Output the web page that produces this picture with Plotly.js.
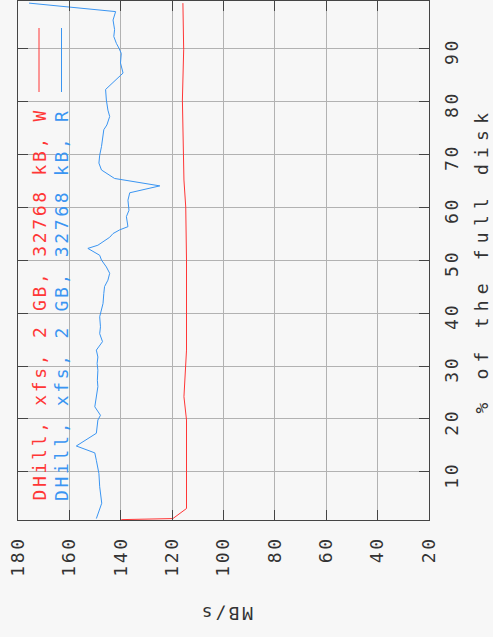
<!DOCTYPE html>
<html>
<head>
<meta charset="utf-8">
<script src="https://cdn.plot.ly/plotly-3.0.1.min.js"></script>
<style>
  html, body { margin: 0; padding: 0; background: #f7f7f7; }
  #chart { width: 493px; height: 637px; }
  /* wide, typewriter-like spacing for every label */
  .xtick text, .ytick text, .annotation-text { letter-spacing: 2.7px; }
  /* the axis title on the right is spaced out even wider */
  .annotation[data-index="2"] .annotation-text { letter-spacing: 6.2px; }
</style>
</head>
<body>
<div id="chart"></div>
<script>
// Throughput (MB/s) against position on the disk (% of the full disk)
const seriesNames = ["DHill, xfs, 2 GB, 32768 kB, W", "DHill, xfs, 2 GB, 32768 kB, R"];
const seriesColors = ["#ff3636", "#3a95f2"];

// write pass
const pctWrite = [1.0, 1.2, 3.1, 19.8, 24.2, 33.0, 50.0, 60.0, 65.1, 80.2, 89.7, 98.5];
const mbWrite  = [139.8, 119.7, 114.4, 114.4, 115.4, 114.4, 114.4, 114.7, 115.4, 116.0, 115.5, 115.8];

// read pass
const pctRead = [1.2, 4.1, 7.2, 9.7, 12.2, 13.6, 14.9, 17.3, 19.8, 20.7, 22.3, 26.1, 27.3, 29.2,
                 30.5, 31.7, 33.0, 34.6, 36.1, 37.4, 39.3, 40.6, 41.8, 43.7, 45.0, 46.2, 47.5,
                 48.7, 50.0, 50.9, 52.2, 52.8, 53.5, 54.3, 55.0, 55.7, 56.3, 58.2, 59.4, 61.3,
                 62.7, 64.0, 65.4, 66.4, 67.0, 68.3, 69.8, 71.4, 73.3, 74.6, 75.5, 77.1, 78.3,
                 80.2, 82.2, 83.7, 85.3, 87.2, 89.0, 90.0, 90.9, 92.2, 93.5, 95.3, 96.9, 98.5];
const mbRead  = [149.5, 147.4, 148.2, 148.5, 149.5, 150.1, 157.3, 149.5, 148.9, 147.9, 150.1, 148.9, 149.1, 148.9,
                 149.2, 148.9, 149.5, 147.1, 148.2, 147.9, 148.2, 147.5, 146.9, 146.6, 146.3, 145.0, 144.3,
                 145.6, 147.5, 148.2, 152.8, 148.9, 146.9, 144.3, 143.0, 140.4, 137.2, 137.8, 136.8, 137.2,
                 136.5, 124.8, 142.4, 145.6, 147.5, 148.5, 148.2, 147.5, 146.9, 146.6, 145.4, 144.3, 145.0,
                 145.6, 145.9, 142.4, 139.1, 140.1, 139.8, 140.7, 141.7, 142.7, 142.4, 143.0, 142.0, 175.7];

const mbTicks  = [180, 160, 140, 120, 100, 80, 60, 40, 20];
const pctTicks = [10, 20, 30, 40, 50, 60, 70, 80, 90];
const mbTitle  = "MB/s";
const pctTitle = "% of the full disk";

const W = 493, H = 637;
const M = { l: 18, r: 64, t: 1, b: 117 };
const PW = W - M.l - M.r, PH = H - M.t - M.b;
// page pixel -> paper fraction
const px = x => (x - M.l) / PW;
const py = y => (H - M.b - y) / PH;

const FONT = "DejaVu Sans Mono, monospace";
const INK = "#333333";
const FRAME = "#454545";
const GRID = "#b2b2b2";

const traces = [
  { x: mbWrite, y: pctWrite, type: "scatter", mode: "lines",
    line: { color: seriesColors[0], width: 1 }, hoverinfo: "skip", name: seriesNames[0] },
  { x: mbRead, y: pctRead, type: "scatter", mode: "lines",
    line: { color: seriesColors[1], width: 1 }, hoverinfo: "skip", name: seriesNames[1] }
];

const axisCommon = {
  ticks: "inside", ticklen: 10, tickwidth: 1, tickcolor: FRAME,
  showline: true, linecolor: FRAME, linewidth: 1, mirror: "allticks",
  showgrid: true, gridcolor: GRID, gridwidth: 1, zeroline: false,
  tickangle: -90, tickfont: { family: FONT, size: 18, color: INK }
};

const layout = {
  width: W, height: H, margin: M,
  paper_bgcolor: "#f7f7f7", plot_bgcolor: "#f7f7f7",
  showlegend: false,
  xaxis: Object.assign({}, axisCommon, {
    range: [180, 20], tickvals: mbTicks, ticktext: mbTicks.map(String),
    ticklabelstandoff: 8
  }),
  yaxis: Object.assign({}, axisCommon, {
    side: "right", range: [0.93, 98.9], tickvals: pctTicks, ticktext: pctTicks.map(String),
    ticklabelstandoff: 6, ticklabelshift: 6
  }),
  shapes: [
    // opaque key box
    { type: "rect", xref: "paper", yref: "paper", x0: px(28.5), x1: px(71.5), y0: py(513), y1: py(14),
      fillcolor: "#f7f7f7", line: { width: 0 }, layer: "between" },
    // key samples
    { type: "line", xref: "paper", yref: "paper", x0: px(39), x1: px(39), y0: py(92), y1: py(28),
      line: { color: seriesColors[0], width: 1 } },
    { type: "line", xref: "paper", yref: "paper", x0: px(61.5), x1: px(61.5), y0: py(92), y1: py(28),
      line: { color: seriesColors[1], width: 1 } }
  ],
  annotations: [
    { text: seriesNames[0], xref: "paper", yref: "paper", x: px(39), y: py(502),
      xanchor: "center", yanchor: "bottom", textangle: -90, showarrow: false, borderpad: 0,
      font: { family: FONT, size: 18, color: seriesColors[0] } },
    { text: seriesNames[1], xref: "paper", yref: "paper", x: px(61.5), y: py(502),
      xanchor: "center", yanchor: "bottom", textangle: -90, showarrow: false, borderpad: 0,
      font: { family: FONT, size: 18, color: seriesColors[1] } },
    { text: pctTitle, xref: "paper", yref: "paper", x: px(481), y: py(260),
      xanchor: "center", yanchor: "middle", textangle: -90, showarrow: false, borderpad: 0,
      font: { family: FONT, size: 18, color: INK } },
    { text: mbTitle, xref: "paper", yref: "paper", x: px(226.5), y: py(613.5),
      xanchor: "center", yanchor: "middle", textangle: 180, showarrow: false, borderpad: 0,
      font: { family: FONT, size: 18, color: INK } }
  ]
};

Plotly.newPlot("chart", traces, layout, { staticPlot: true, displayModeBar: false });
</script>
</body>
</html>
